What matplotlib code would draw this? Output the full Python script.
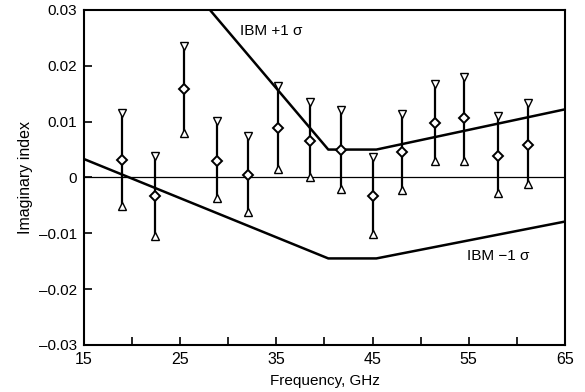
import numpy as np
import matplotlib.pyplot as plt

plt.rcParams['font.family'] = ['Liberation Sans', 'DejaVu Sans']

# Measured imaginary index with error bars
freq = [18.9, 22.4, 25.4, 28.8, 32.1, 35.2, 38.5, 41.7, 45.0, 48.1, 51.5, 54.5, 58.0, 61.2]
value = [0.0032, -0.0034, 0.0158, 0.0030, 0.0004, 0.0089, 0.0065, 0.0050, -0.0033, 0.0045, 0.0098, 0.0106, 0.0039, 0.0059]
upper = [0.0116, 0.0039, 0.0236, 0.0101, 0.0075, 0.0163, 0.0135, 0.0121, 0.0036, 0.0113, 0.0167, 0.0180, 0.0111, 0.0134]
lower = [-0.0051, -0.0104, 0.0080, -0.0037, -0.0062, 0.0015, 0.0000, -0.0021, -0.0102, -0.0022, 0.0030, 0.0030, -0.0028, -0.0011]

# IBM model bounds
ibm_plus_x = [28.1, 40.4, 45.4, 65.0]
ibm_plus_y = [0.030, 0.0050, 0.0050, 0.0122]
ibm_minus_x = [15.0, 40.4, 45.4, 65.0]
ibm_minus_y = [0.0033, -0.0145, -0.0145, -0.0079]

fig = plt.figure(figsize=(5.85, 3.92), dpi=100)
ax = fig.add_axes([0.1436, 0.120, 0.822, 0.8545])

ax.axhline(0, color='black', lw=0.9)
ax.plot(ibm_plus_x, ibm_plus_y, color='black', lw=1.8)
ax.plot(ibm_minus_x, ibm_minus_y, color='black', lw=1.8)

ax.vlines(freq, lower, upper, color='black', lw=1.6)
ax.plot(freq, upper, linestyle='none', marker='v', ms=6, mfc='white', mec='black', mew=1.0)
ax.plot(freq, lower, linestyle='none', marker='^', ms=6, mfc='white', mec='black', mew=1.0)
ax.plot(freq, value, linestyle='none', marker='D', ms=5.5, mfc='white', mec='black', mew=1.4)

ax.text(31.2, 0.0263, 'IBM +1 σ', fontsize=11, va='center', ha='left')
ax.text(54.8, -0.0141, 'IBM −1 σ', fontsize=11, va='center', ha='left')

ax.set_xlim(15, 65)
ax.set_ylim(-0.03, 0.03)
ax.set_xticks(np.arange(15, 66, 5))
ax.set_xticklabels([str(v) if (v - 15) % 10 == 0 else '' for v in range(15, 66, 5)])
ax.set_yticks([0.03, 0.02, 0.01, 0, -0.01, -0.02, -0.03])
ax.set_yticklabels(['0.03', '0.02', '0.01', '0', '–0.01', '–0.02', '–0.03'])
ax.tick_params(direction='in', length=6, width=1.2)
ax.tick_params(axis='x', labelsize=11.5, pad=5)
ax.tick_params(axis='y', labelsize=11, pad=5)
for s in ax.spines.values():
    s.set_linewidth(1.5)

ax.set_xlabel('Frequency, GHz', fontsize=11, labelpad=5)
ax.set_ylabel('Imaginary index', fontsize=11.5, labelpad=4)

fig.savefig('out.png', dpi=100)
